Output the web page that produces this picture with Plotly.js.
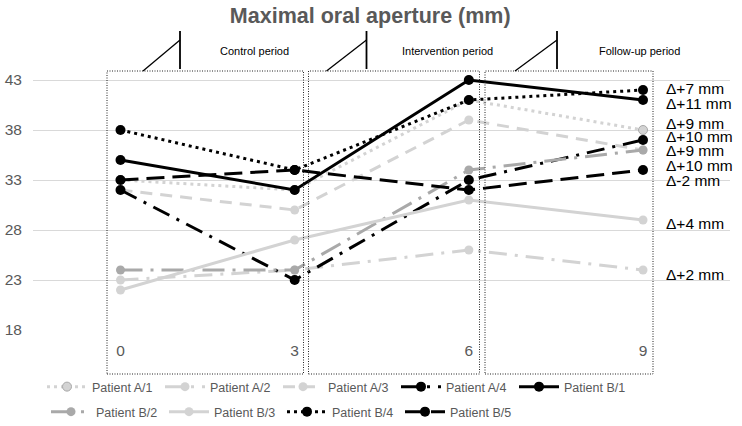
<!DOCTYPE html>
<html>
<head>
<meta charset="utf-8">
<script src="https://cdn.plot.ly/plotly-3.0.1.min.js"></script>
<style>html,body{margin:0;padding:0;background:#fff;}#chart{width:742px;height:426px;}</style>
</head>
<body>
<div id="chart"></div>
<script>
// ---- data ----
const months = [0, 3, 6, 9];
const tickLabels = ['0', '3', '6', '9'];
const yTicks = [18, 23, 28, 33, 38, 43];
const patientNames = ['Patient A/1', 'Patient A/2', 'Patient A/3', 'Patient A/4', 'Patient B/1',
                      'Patient B/2', 'Patient B/3', 'Patient B/4', 'Patient B/5'];
const patientA1 = [33, 32, 41, 38];
const patientA2 = [23, 24, 26, 24];
const patientA3 = [32, 30, 39, 36];
const patientA4 = [32, 23, 33, 37];
const patientB1 = [35, 32, 43, 41];
const patientB2 = [24, 24, 34, 36];
const patientB3 = [22, 27, 31, 29];
const patientB4 = [38, 34, 41, 42];
const patientB5 = [33, 34, 32, 34];
const periodNames = ['Control period', 'Intervention period', 'Follow-up period'];
const chartTitle = 'Maximal oral aperture (mm)';

const seriesValues = [patientA1, patientA2, patientA3, patientA4, patientB1,
                      patientB2, patientB3, patientB4, patientB5];

// ---- styles ----
const LIGHT = '#d3d3d3', MID = '#a9a9a9', BLACK = '#000000';
const styles = [
  {c: LIGHT, dash: '3px,4px', ms: 9, mline: '#a8a8a8'},
  {c: LIGHT, dash: '18px,8px,3px,8px', ms: 9},
  {c: LIGHT, dash: '12px,8px', ms: 9},
  {c: BLACK, dash: '18px,8px,3px,8px', ms: 10},
  {c: BLACK, dash: 'solid', ms: 10},
  {c: MID, dash: '22px,8px,3px,8px', ms: 9},
  {c: LIGHT, dash: 'solid', ms: 9},
  {c: BLACK, dash: '3px,4px', ms: 10},
  {c: BLACK, dash: '18px,8px', ms: 10}
];

// pixel -> paper helpers (plot area: left 33, top 70, width 697, height 260)
const PL = 33, PT = 70, PW = 697, PH = 260;
const fx = px => (px - PL) / PW;
const fy = py => (PT + PH - py) / PH;

const traces = seriesValues.map((vals, i) => ({
  type: 'scatter', mode: 'lines+markers',
  x: months, y: vals, name: patientNames[i],
  legend: i < 5 ? 'legend' : 'legend2',
  line: {color: styles[i].c, width: 3, dash: styles[i].dash},
  marker: {color: styles[i].c, size: styles[i].ms,
           line: {color: styles[i].mline || styles[i].c, width: styles[i].mline ? 1 : 0}},
  hoverinfo: 'x+y+name'
}));

// delta labels (value at 6 minus value at 3), stacked on the right
const labelOrder = [7, 4, 0, 3, 2, 5, 8, 6, 1];
const labelPy = [89, 103, 123, 136, 150.5, 165, 180.5, 223, 274];
const annotations = labelOrder.map((idx, k) => {
  const d = seriesValues[idx][2] - seriesValues[idx][1];
  return {xref: 'paper', yref: 'paper', x: fx(664), y: fy(labelPy[k]),
          xanchor: 'left', yanchor: 'middle', showarrow: false,
          text: 'Δ' + (d >= 0 ? '+' : '') + d + ' mm',
          font: {family: 'Liberation Sans, Arial, sans-serif', size: 15.5, color: '#000'}};
});
const periodTextPx = [255, 447, 639];
periodNames.forEach((t, i) => annotations.push({
  xref: 'paper', yref: 'paper', x: fx(periodTextPx[i]), y: fy(51),
  xanchor: 'center', yanchor: 'middle', showarrow: false, text: t,
  font: {family: 'Liberation Sans, Arial, sans-serif', size: 11, color: '#000'}
}));

// period boxes and callout marks
const boxPx = [[107, 303.5], [308.5, 479.5], [485, 653]];
const calloutPx = [[143, 180], [326.5, 366.5], [515, 557]];
const shapes = [];
boxPx.forEach(b => shapes.push({type: 'rect', xref: 'paper', yref: 'paper',
  x0: fx(b[0]), x1: fx(b[1]), y0: fy(374), y1: fy(71), layer: 'above',
  line: {color: '#222', width: 1, dash: '1px,1.5px'}, fillcolor: 'rgba(0,0,0,0)'}));
calloutPx.forEach(c => {
  shapes.push({type: 'line', xref: 'paper', yref: 'paper', x0: fx(c[0]), y0: fy(71),
    x1: fx(c[1]), y1: fy(40), line: {color: '#000', width: 1.3}});
  shapes.push({type: 'line', xref: 'paper', yref: 'paper', x0: fx(c[1]), y0: fy(31),
    x1: fx(c[1]), y1: fy(69), line: {color: '#000', width: 1.8}});
});

const legendCommon = {
  orientation: 'h', xref: 'paper', yref: 'paper', xanchor: 'left', yanchor: 'middle',
  bgcolor: 'rgba(0,0,0,0)', itemwidth: 40, entrywidth: 63, entrywidthmode: 'pixels',
  font: {family: 'Liberation Sans, Arial, sans-serif', size: 12.5, color: '#595959'},
  itemclick: false, itemdoubleclick: false
};

const layout = {
  width: 742, height: 426,
  margin: {l: PL, r: 742 - PL - PW, t: PT, b: 426 - PT - PH, pad: 0, autoexpand: false},
  paper_bgcolor: '#fff', plot_bgcolor: '#fff',
  font: {family: 'Liberation Sans, Arial, sans-serif', color: '#595959'},
  title: {text: '<b>' + chartTitle + '</b>', xref: 'container', yref: 'container',
          x: 0.499, y: 1 - 15 / 426, xanchor: 'center', yanchor: 'middle',
          font: {family: 'Liberation Sans, Arial, sans-serif', size: 21.5, color: '#595959'}},
  xaxis: {range: [-1.507, 10.498], tickvals: months, ticktext: tickLabels,
          showgrid: false, zeroline: false, showline: false, ticks: '',
          ticklabelstandoff: 9,
          tickfont: {size: 15.5, color: '#595959'}, fixedrange: true},
  yaxis: {range: [18, 44], tickvals: yTicks, showgrid: true, gridcolor: '#d9d9d9',
          gridwidth: 1, zeroline: false, showline: false, ticks: '',
          ticklabelstandoff: 10,
          tickfont: {size: 15.5, color: '#595959'}, fixedrange: true},
  showlegend: true,
  legend: Object.assign({}, legendCommon, {x: fx(42), y: fy(387)}),
  legend2: Object.assign({}, legendCommon, {x: fx(46), y: fy(412)}),
  shapes: shapes,
  annotations: annotations
};

Plotly.newPlot('chart', traces, layout, {staticPlot: true, displayModeBar: false});
</script>
</body>
</html>
